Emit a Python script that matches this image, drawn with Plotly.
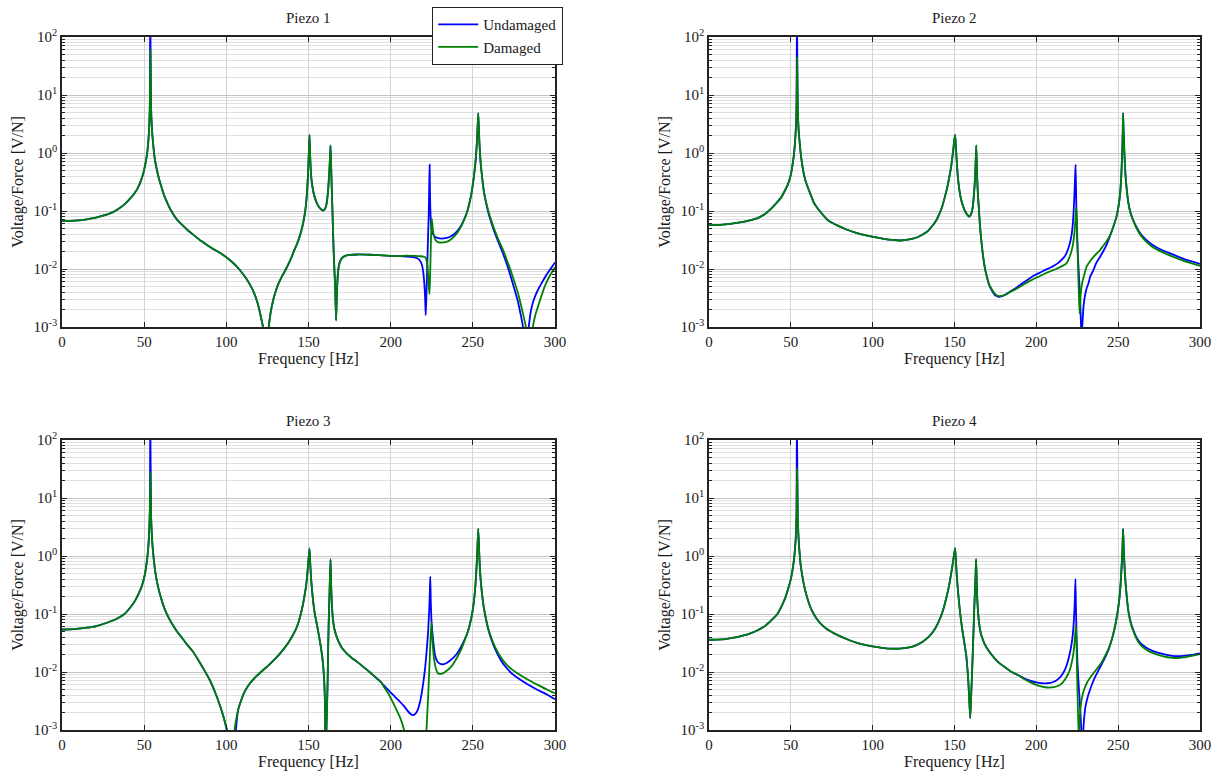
import plotly.graph_objects as go

# ---------------- data (frequency [Hz], voltage/force [V/N]) ----------------
PANEL_TITLES = ["Piezo 1", "Piezo 2", "Piezo 3", "Piezo 4"]
SERIES_NAMES = ["Undamaged", "Damaged"]
X_TICKS = [0, 50, 100, 150, 200, 250, 300]
Y_TICK_VALUES = [1e-3, 1e-2, 1e-1, 1e0, 1e1, 1e2]
Y_TICK_LABELS = ["10<sup>-3</sup>", "10<sup>-2</sup>", "10<sup>-1</sup>",
                 "10<sup>0</sup>", "10<sup>1</sup>", "10<sup>2</sup>"]

# ---- Piezo 1 ----
P1_LOW = [(0, 0.067), (5, 0.0675), (10, 0.069), (15, 0.072), (20, 0.076), (25, 0.083),
          (30, 0.093), (34, 0.107), (38, 0.13), (41, 0.158), (44, 0.2), (46, 0.245),
          (48, 0.33), (49.5, 0.45), (50.5, 0.6), (51.3, 0.8), (52, 1.1), (52.6, 1.7),
          (53, 2.6), (53.3, 4.5), (53.5, 8)]
P1_U_TOP = [(53.7, 300)]
P1_D_TOP = [(53.8, 60)]
P1_MID = [(54.2, 6), (54.6, 3.0), (55, 2.0), (55.5, 1.4), (56, 1.0), (56.7, 0.72),
          (57.5, 0.55), (59, 0.36), (60.7, 0.25), (62.3, 0.18), (64, 0.14), (66, 0.106),
          (67.7, 0.088), (70, 0.071), (73, 0.058), (76, 0.048), (79.4, 0.04), (85, 0.03),
          (91, 0.023), (96, 0.019), (100, 0.016), (104, 0.0128), (107, 0.0105),
          (110, 0.0083), (112, 0.0069), (114, 0.0056), (116, 0.0044), (118, 0.0032),
          (119.5, 0.0023), (121, 0.0015), (122.6, 0.0009), (124, 0.0001), (125.5, 0.0008),
          (127, 0.0018), (128.5, 0.0029), (130, 0.0041), (132, 0.0058), (134, 0.0076),
          (136, 0.0096), (137.7, 0.012), (139.5, 0.0155), (141, 0.02), (143, 0.027),
          (144.8, 0.038), (146, 0.05), (147, 0.068), (148, 0.1), (148.7, 0.15),
          (149.3, 0.26), (149.8, 0.5), (150.2, 1.0), (150.6, 2.06), (151, 0.9),
          (151.4, 0.5), (151.9, 0.33), (153, 0.21), (154, 0.165), (155, 0.138),
          (156.3, 0.118), (157.6, 0.107), (159, 0.102), (160, 0.108), (160.8, 0.125),
          (161.5, 0.17), (162.1, 0.26), (162.7, 0.5), (163.1, 0.85), (163.4, 1.35),
          (163.8, 0.55), (164.2, 0.22), (164.7, 0.075), (165.3, 0.02), (166.2, 0.005),
          (166.8, 0.0013), (167.3, 0.004), (168, 0.009), (169, 0.013), (170.4, 0.0155),
          (172, 0.0167), (175, 0.0175), (180, 0.0178), (185, 0.0177), (190, 0.0175),
          (195, 0.0172), (200, 0.0169), (205, 0.0167)]
P1_U_TAIL = [(210, 0.0163), (215, 0.0157), (217, 0.0148), (218, 0.0138), (219, 0.0118),
             (219.8, 0.009), (220.5, 0.0055), (221, 0.003), (221.3, 0.0016), (221.6, 0.0026),
             (222, 0.006), (222.5, 0.02), (222.9, 0.05), (223.2, 0.1), (223.5, 0.3),
             (223.7, 0.63), (223.9, 0.25), (224.1, 0.12), (224.4, 0.07), (224.8, 0.05),
             (225.5, 0.042), (226.5, 0.037), (228.8, 0.034), (231, 0.0335), (233.5, 0.034),
             (237, 0.037), (240.5, 0.045), (243, 0.057), (245, 0.075), (246.7, 0.1),
             (248, 0.14), (249, 0.19), (249.8, 0.26), (250.7, 0.4), (251.5, 0.65),
             (252, 0.95), (252.5, 1.6), (252.9, 2.8), (253.3, 4.85), (253.7, 2.5),
             (254, 1.5), (254.4, 0.95), (254.8, 0.65), (255.7, 0.37), (256.8, 0.21),
             (258, 0.14), (259, 0.105), (260, 0.082), (261.5, 0.06), (263.5, 0.041),
             (266, 0.027), (268.5, 0.018), (270.8, 0.0118), (273, 0.0075), (275.5, 0.0043),
             (277.5, 0.0027), (279, 0.0017), (280.3, 0.0011), (281.3, 0.0006),
             (282.5, 0.0001), (283.5, 0.0007), (284.5, 0.0013), (285.5, 0.002), (287, 0.0029),
             (289.5, 0.0043), (292, 0.0058), (294, 0.0073), (297, 0.0098), (300, 0.013)]
P1_D_TAIL = [(210, 0.017), (215, 0.0168), (218, 0.0166), (220, 0.0164), (221, 0.016),
             (221.7, 0.0145), (222.3, 0.012), (222.8, 0.008), (223.2, 0.005),
             (223.6, 0.0037), (223.9, 0.006), (224.2, 0.013), (224.5, 0.03), (224.8, 0.06),
             (225, 0.074), (225.3, 0.062), (225.7, 0.047), (226.5, 0.036), (227.5, 0.031),
             (228.8, 0.029), (231, 0.0285), (233.5, 0.029), (237, 0.033), (240.5, 0.042),
             (243, 0.055), (245, 0.074), (246.7, 0.1), (248, 0.14), (249, 0.19),
             (249.8, 0.26), (250.7, 0.4), (251.5, 0.65), (252, 0.95), (252.5, 1.6),
             (252.9, 2.8), (253.3, 4.85), (253.7, 2.5), (254, 1.5), (254.4, 0.95),
             (254.8, 0.65), (255.7, 0.37), (256.8, 0.21), (258, 0.145), (259, 0.112),
             (260, 0.088), (261.5, 0.065), (263.5, 0.045), (266, 0.03), (268.5, 0.021),
             (270.8, 0.014), (273, 0.0095), (275.5, 0.0058), (277.5, 0.0038), (279, 0.0026),
             (280.5, 0.0017), (282, 0.0011), (283.2, 0.0006), (284.5, 0.0001),
             (285.5, 0.0006), (286.5, 0.001), (288, 0.0016), (289.5, 0.0022), (292, 0.0036),
             (294, 0.0052), (297, 0.0078), (300, 0.0107)]

# ---- Piezo 2 ----
P2_LOW = [(0, 0.057), (5, 0.0575), (10, 0.059), (15, 0.061), (20, 0.064), (25, 0.069),
          (30, 0.076), (34, 0.088), (38, 0.11), (41, 0.135), (44, 0.17), (46, 0.215),
          (48, 0.28), (49.5, 0.37), (50.5, 0.5), (51.3, 0.7), (52, 1.0), (52.6, 1.6),
          (53, 2.4), (53.3, 4), (53.5, 7)]
P2_U_TOP = [(53.75, 300)]
P2_D_TOP = [(53.8, 44)]
P2_MID = [(54.2, 6), (54.6, 3.0), (55, 2.0), (55.5, 1.4), (56, 1.0), (56.7, 0.7),
          (57.5, 0.5), (59, 0.33), (61, 0.23), (62.5, 0.18), (64, 0.14), (66, 0.115),
          (68.3, 0.095), (70.5, 0.08), (73, 0.068), (75.5, 0.062), (78, 0.057), (84, 0.048),
          (90, 0.042), (96, 0.038), (102, 0.035), (110, 0.032), (117, 0.031), (124, 0.033),
          (128, 0.036), (131, 0.04), (134, 0.046), (137, 0.058), (139, 0.07),
          (140.7, 0.088), (142.5, 0.12), (144, 0.17), (145.5, 0.25), (146.7, 0.37),
          (147.8, 0.55), (148.7, 0.85), (149.4, 1.25), (149.9, 1.7), (150.4, 2.06),
          (150.9, 1.2), (151.4, 0.7), (152, 0.4), (152.8, 0.25), (153.6, 0.18),
          (154.5, 0.14), (155.5, 0.115), (156.4, 0.1), (157.6, 0.088), (158.8, 0.08),
          (159.7, 0.083), (160.5, 0.095), (161.2, 0.12), (161.8, 0.18), (162.3, 0.28),
          (162.8, 0.55), (163.3, 1.35), (163.7, 0.5), (164.1, 0.25), (164.5, 0.16),
          (164.9, 0.11), (165.4, 0.065), (166, 0.04), (166.6, 0.027), (167.3, 0.018),
          (168, 0.013), (169, 0.009), (170, 0.007), (170.9, 0.0056)]
P2_U_TAIL = [(172.5, 0.0044), (174.5, 0.0036), (176, 0.0034), (177.5, 0.0033),
             (179, 0.0034), (181, 0.0036), (184, 0.0041), (187.5, 0.0047), (191.3, 0.0056),
             (195, 0.0066), (198.6, 0.0077), (202, 0.0086), (205, 0.0095), (208, 0.0104),
             (210.7, 0.0114), (213, 0.0125), (215, 0.014), (217, 0.016), (218.5, 0.019),
             (220, 0.025), (221, 0.032), (221.6, 0.04), (222.3, 0.06), (222.8, 0.1),
             (223.3, 0.2), (223.7, 0.4), (224, 0.63), (224.3, 0.2), (224.6, 0.07),
             (225, 0.03), (225.5, 0.015), (226.1, 0.007), (226.8, 0.003), (227.6, 0.0006),
             (228.2, 0.0012), (228.8, 0.0022), (229.6, 0.0033), (230.7, 0.0046),
             (231.7, 0.0055), (233, 0.0075), (234.8, 0.0095), (236.8, 0.013),
             (238.8, 0.016), (240.8, 0.02), (242.9, 0.026), (245, 0.037), (247, 0.053),
             (249, 0.08), (250.2, 0.12), (251.2, 0.2), (251.9, 0.4), (252.4, 0.9),
             (252.8, 2.2), (253, 4.85), (253.3, 2.4), (253.8, 1.0), (254.4, 0.45),
             (255.2, 0.24), (256.2, 0.14), (257.5, 0.095), (259, 0.072), (261, 0.054),
             (263.8, 0.04), (267, 0.032), (271, 0.026), (277, 0.021), (283, 0.018),
             (290, 0.015), (295, 0.0135), (300, 0.0122)]
P2_D_TAIL = [(172.5, 0.0046), (174.5, 0.0038), (176, 0.0035), (178, 0.0034), (180, 0.0035),
             (182, 0.0037), (184, 0.004), (187.5, 0.0045), (191.3, 0.0052), (195, 0.006),
             (198.6, 0.0068), (202, 0.0075), (205, 0.0083), (208, 0.009), (210.7, 0.0096),
             (213, 0.0103), (215, 0.011), (217, 0.0117), (218.5, 0.0126), (220.3, 0.016),
             (221.6, 0.021), (222.5, 0.028), (223.2, 0.04), (223.8, 0.065), (224.2, 0.1),
             (224.5, 0.114), (224.8, 0.07), (225.1, 0.03), (225.5, 0.01), (225.9, 0.0045),
             (226.4, 0.0017), (226.8, 0.0027), (227.3, 0.0042), (228, 0.0058),
             (229.3, 0.008), (230.7, 0.011), (232.7, 0.0135), (234.8, 0.016),
             (236.8, 0.0185), (238.8, 0.021), (240.8, 0.025), (242.9, 0.03), (245, 0.038),
             (247, 0.053), (249, 0.08), (250.2, 0.12), (251.2, 0.2), (251.9, 0.4),
             (252.4, 0.9), (252.8, 2.2), (253, 4.85), (253.3, 2.4), (253.8, 1.0),
             (254.4, 0.45), (255.2, 0.24), (256.2, 0.14), (257.5, 0.092), (259, 0.07),
             (261, 0.052), (263.8, 0.038), (267, 0.03), (271, 0.024), (277, 0.0195),
             (283, 0.0165), (290, 0.0138), (295, 0.0125), (300, 0.0113)]

# ---- Piezo 3 ----
P3_LOW = [(0, 0.054), (5, 0.0545), (10, 0.056), (15, 0.058), (21, 0.062), (27, 0.07),
          (32.7, 0.081), (38, 0.1), (42, 0.135), (44.5, 0.17), (46.5, 0.22), (48.5, 0.3),
          (49.8, 0.4), (50.8, 0.55), (51.6, 0.8), (52.3, 1.2), (52.8, 1.9), (53.2, 3.5),
          (53.5, 7)]
P3_U_TOP = [(53.7, 300)]
P3_D_TOP = [(53.8, 28)]
P3_MID = [(54.2, 5), (54.6, 2.5), (55, 1.6), (55.5, 1.1), (56, 0.8), (56.7, 0.55),
          (57.5, 0.4), (58.4, 0.3), (60, 0.2), (61.5, 0.145), (63, 0.112), (65.5, 0.08),
          (68, 0.061), (70, 0.05), (73, 0.039), (76, 0.03), (79.4, 0.023), (83, 0.016),
          (86.4, 0.011), (90, 0.0072), (93.4, 0.0043), (96, 0.0027), (98, 0.0018),
          (100, 0.0011), (101.6, 0.0007)]
P3_U_ANTI = [(103.8, 0.0001), (105.6, 0.0008)]
P3_D_ANTI = [(103.4, 0.0001), (104.8, 0.0009)]
P3_MID2 = [(107, 0.0021), (108.6, 0.003), (111, 0.0045), (114.4, 0.0064), (118, 0.0083),
           (121.4, 0.0102), (126, 0.0133), (130.7, 0.018), (135, 0.025), (138, 0.033),
           (140, 0.041), (142, 0.052), (143.8, 0.07), (145.3, 0.1), (146.5, 0.14),
           (147.6, 0.21), (148.5, 0.3), (149.3, 0.5), (149.9, 0.8), (150.6, 1.35),
           (151.1, 0.7), (151.6, 0.4), (152.2, 0.25), (153, 0.15), (154, 0.095),
           (155.3, 0.062), (156.5, 0.04), (157.6, 0.026), (158.6, 0.016), (159.5, 0.0075),
           (160, 0.003), (160.4, 0.0003), (160.9, 0.001), (161.6, 0.006), (162, 0.03),
           (162.5, 0.12), (162.9, 0.3), (163.4, 0.88), (163.8, 0.3), (164.2, 0.15),
           (164.8, 0.085), (165.6, 0.058), (166.6, 0.045), (168, 0.035), (170, 0.027),
           (172.8, 0.0215), (176, 0.0178), (179.8, 0.0148), (183, 0.0125), (186.8, 0.0102),
           (190, 0.0085), (193.8, 0.0068)]
P3_U_TAIL = [(196, 0.0058), (198.5, 0.0049), (202, 0.0039), (205.5, 0.0031), (208, 0.0026),
             (210, 0.0022), (212, 0.0019), (213.6, 0.0018), (215, 0.0019), (216.4, 0.0022),
             (217.8, 0.003), (219, 0.0045), (220, 0.007), (221, 0.012), (222, 0.025),
             (222.8, 0.05), (223.4, 0.11), (223.8, 0.22), (224.1, 0.44), (224.4, 0.17),
             (224.8, 0.08), (225.3, 0.052), (226, 0.032), (226.8, 0.021), (227.6, 0.017),
             (229, 0.0145), (231.1, 0.0136), (233.5, 0.014), (235.8, 0.0155), (238.5, 0.018),
             (240.5, 0.021), (242.8, 0.027), (245, 0.036), (247, 0.05), (248.5, 0.072),
             (249.8, 0.11), (250.8, 0.18), (251.6, 0.32), (252.2, 0.6), (252.7, 1.2),
             (253.3, 2.94), (253.8, 1.3), (254.3, 0.6), (254.9, 0.35), (255.6, 0.22),
             (256.5, 0.14), (257.5, 0.095), (259.2, 0.057), (261.5, 0.035), (263.8, 0.024),
             (267, 0.016), (270.8, 0.0115), (274, 0.0093), (277.8, 0.0077), (283, 0.0062),
             (289.5, 0.0049), (295, 0.0041), (300, 0.0034)]
P3_D_TAIL = [(196, 0.0055), (198.5, 0.0043), (200.6, 0.0033), (203, 0.0024),
             (205.5, 0.0017), (207, 0.0013), (208.5, 0.0009), (210, 0.0004), (211, 0.0001),
             (216, 0.00002), (221, 0.0002), (221.8, 0.001), (222.5, 0.0025), (223, 0.005),
             (223.7, 0.015), (224.3, 0.04), (224.8, 0.072), (225.2, 0.045), (225.8, 0.025),
             (226.5, 0.016), (227.5, 0.0115), (228.8, 0.0095), (231, 0.0093),
             (233.5, 0.0102), (237, 0.0125), (240.5, 0.018), (242.8, 0.024), (245, 0.035),
             (247, 0.05), (248.5, 0.072), (249.8, 0.11), (250.8, 0.18), (251.6, 0.32),
             (252.2, 0.6), (252.7, 1.2), (253.3, 2.94), (253.8, 1.3), (254.3, 0.6),
             (254.9, 0.35), (255.6, 0.22), (256.5, 0.14), (257.5, 0.097), (259.2, 0.059),
             (261.5, 0.037), (263.8, 0.026), (267, 0.018), (270.8, 0.0132), (274, 0.011),
             (277.8, 0.0092), (283, 0.0075), (289.5, 0.006), (295, 0.005), (300, 0.0043)]

# ---- Piezo 4 ----
P4_LOW = [(0, 0.036), (5, 0.0363), (10, 0.037), (15.2, 0.039), (20, 0.042),
          (24.9, 0.046), (30, 0.053), (34.5, 0.063), (38.5, 0.08), (41.8, 0.1), (44.5, 0.14),
          (46.6, 0.19), (48.5, 0.28), (49.8, 0.38), (50.7, 0.5), (51.5, 0.7), (52, 0.9),
          (52.6, 1.4), (53, 2.0), (53.3, 3.5), (53.5, 6)]
P4_U_TOP = [(53.7, 300)]
P4_D_TOP = [(53.8, 32)]
P4_MID = [(54.2, 5), (54.6, 2.4), (55, 1.5), (55.5, 1.0), (56, 0.7), (57.2, 0.42),
          (58.7, 0.26), (60.3, 0.18), (62, 0.13), (64, 0.1), (65.9, 0.082), (68.5, 0.067),
          (72, 0.055), (75, 0.049), (78, 0.044), (84, 0.037), (90, 0.032), (96, 0.029),
          (102, 0.027), (107, 0.0258), (111.8, 0.0252), (116.5, 0.0253), (121.4, 0.0262),
          (126, 0.0285), (131, 0.034), (134.5, 0.041), (138.3, 0.057), (141.5, 0.088),
          (143.5, 0.13), (145.2, 0.2), (146.6, 0.3), (147.8, 0.47), (148.8, 0.7),
          (149.6, 1.0), (150.4, 1.37), (150.9, 0.8), (151.4, 0.45), (152.3, 0.22),
          (153.5, 0.1), (154.7, 0.055), (156, 0.032), (157.2, 0.019), (158.3, 0.008),
          (158.8, 0.0045), (159.6, 0.0016), (160.2, 0.004), (160.8, 0.011), (161.5, 0.04),
          (162, 0.11), (162.5, 0.25), (162.9, 0.5), (163.2, 0.88), (163.6, 0.35),
          (164, 0.16), (164.9, 0.075), (165.7, 0.052), (166.5, 0.042), (168.5, 0.03),
          (171, 0.023), (174.5, 0.0172), (178, 0.0138), (181.7, 0.0116), (185, 0.01),
          (189, 0.0088)]
P4_U_TAIL = [(192.5, 0.0078), (196.2, 0.0071), (200, 0.0066), (203.4, 0.0064),
             (207, 0.0064), (210.7, 0.0068), (213.5, 0.0076), (215.5, 0.0088),
             (217.5, 0.011), (219, 0.0145), (220.3, 0.02), (221.5, 0.03), (222.3, 0.045),
             (222.9, 0.075), (223.4, 0.14), (223.9, 0.4), (224.2, 0.13), (224.6, 0.04),
             (225.1, 0.015), (225.6, 0.008), (226.4, 0.0035), (227.2, 0.0015),
             (228.1, 0.0004), (228.7, 0.001), (229.3, 0.0017), (230, 0.0025), (231.5, 0.0038),
             (233.7, 0.0058), (236, 0.0083), (238.5, 0.0114), (241, 0.0155), (243.8, 0.023),
             (245.5, 0.032), (247, 0.045), (248.5, 0.07), (249.7, 0.11), (250.7, 0.18),
             (251.5, 0.33), (252.1, 0.65), (252.6, 1.3), (253, 2.94), (253.4, 1.4),
             (253.9, 0.65), (254.5, 0.35), (255.3, 0.19), (256.3, 0.11), (257.5, 0.075),
             (259, 0.055), (261.3, 0.039), (263.8, 0.031), (267, 0.0265), (271, 0.0232),
             (277, 0.0205), (283, 0.019), (290, 0.019), (295, 0.0197), (300, 0.021)]
P4_D_TAIL = [(192.5, 0.0076), (196.2, 0.0067), (200, 0.006), (203.4, 0.0056),
             (207, 0.0054), (210.7, 0.0055), (213.5, 0.0058), (215.5, 0.0063),
             (217.5, 0.0074), (219, 0.0088), (220.3, 0.0105), (221.5, 0.014),
             (222.3, 0.018), (222.9, 0.024), (223.5, 0.036), (224, 0.055), (224.2, 0.063),
             (224.5, 0.035), (224.8, 0.012), (225.2, 0.004), (225.9, 0.0007),
             (226.4, 0.0014), (227, 0.0024), (227.6, 0.0033), (229, 0.0048), (231.2, 0.0068),
             (234, 0.0088), (237.3, 0.0116), (240, 0.0148), (242, 0.019), (243.8, 0.024),
             (245.5, 0.032), (247, 0.045), (248.5, 0.07), (249.7, 0.11), (250.7, 0.18),
             (251.5, 0.33), (252.1, 0.65), (252.6, 1.3), (253, 2.94), (253.4, 1.4),
             (253.9, 0.65), (254.5, 0.35), (255.3, 0.19), (256.3, 0.11), (257.5, 0.073),
             (259, 0.053), (261.3, 0.037), (263.8, 0.029), (267, 0.0245), (271, 0.0213),
             (277, 0.0187), (283, 0.0175), (290, 0.0178), (295, 0.019), (300, 0.0203)]

UNDAMAGED = [
    P1_LOW + P1_U_TOP + P1_MID + P1_U_TAIL,
    P2_LOW + P2_U_TOP + P2_MID + P2_U_TAIL,
    P3_LOW + P3_U_TOP + P3_MID + P3_U_ANTI + P3_MID2 + P3_U_TAIL,
    P4_LOW + P4_U_TOP + P4_MID + P4_U_TAIL,
]
DAMAGED = [
    P1_LOW + P1_D_TOP + P1_MID + P1_D_TAIL,
    P2_LOW + P2_D_TOP + P2_MID + P2_D_TAIL,
    P3_LOW + P3_D_TOP + P3_MID + P3_D_ANTI + P3_MID2 + P3_D_TAIL,
    P4_LOW + P4_D_TOP + P4_MID + P4_D_TAIL,
]

# ---------------- layout geometry ----------------
W, H = 1220, 776
# plot-area pixel boxes: (left, right, top, bottom)
BOXES = [(62, 555, 37, 327), (709, 1200, 37, 327),
         (62, 555, 440, 730), (709, 1200, 440, 730)]
COLORS = ["#0000ff", "#008000"]
FONT = "Liberation Serif, Times New Roman, serif"
TXT = "#1a1a1a"

minor_vals = [m * 10 ** e for e in range(-3, 2) for m in range(2, 10)]

fig = go.Figure()

for i, (l, r, t, b) in enumerate(BOXES):
    n = "" if i == 0 else str(i + 1)
    for j, series in enumerate((UNDAMAGED[i], DAMAGED[i])):
        fig.add_trace(go.Scatter(
            x=[p[0] for p in series], y=[p[1] for p in series],
            mode="lines", name=SERIES_NAMES[j],
            line=dict(color=COLORS[j], width=1.8, shape="spline", smoothing=0.5),
            showlegend=(i == 0), legendgroup=SERIES_NAMES[j],
            xaxis="x" + n, yaxis="y" + n,
        ))
    axis_common = dict(
        showline=True, linecolor="#222", linewidth=1.5, mirror="allticks",
        ticks="inside", ticklen=5, tickcolor="#222", automargin=False,
        tickfont=dict(family=FONT, size=15, color=TXT),
        zeroline=False,
    )
    fig.update_layout(**{
        "xaxis" + n: dict(
            domain=[l / W, r / W], range=[0, 300], tickvals=X_TICKS,
            showgrid=True, gridcolor="#d4d4d4", gridwidth=1,
            title=dict(text="Frequency [Hz]", standoff=3,
                       font=dict(family=FONT, size=16, color=TXT)),
            anchor="y" + n, **axis_common),
        "yaxis" + n: dict(
            domain=[1 - b / H, 1 - t / H], type="log", range=[-3, 2],
            tickmode="array", tickvals=Y_TICK_VALUES, ticktext=Y_TICK_LABELS,
            showgrid=True, gridcolor="#c4c4c4", gridwidth=1,
            minor=dict(tickmode="array", tickvals=minor_vals, showgrid=True,
                       gridcolor="#e0e0e0", gridwidth=1, ticks="inside",
                       ticklen=3, tickcolor="#222"),
            title=dict(text="Voltage/Force [V/N]", standoff=6,
                       font=dict(family=FONT, size=16, color=TXT)),
            anchor="x" + n, **axis_common),
    })
    fig.add_annotation(
        x=(l + r) / 2 / W, y=1 - (t - 19) / H, xref="paper", yref="paper",
        text=PANEL_TITLES[i], showarrow=False, xanchor="center", yanchor="middle",
        font=dict(family=FONT, size=15, color=TXT),
    )

fig.update_layout(
    width=W, height=H, margin=dict(l=0, r=0, t=0, b=0, autoexpand=False),
    paper_bgcolor="white", plot_bgcolor="white",
    font=dict(family=FONT, color=TXT),
    legend=dict(
        x=432 / W, y=1 - 7 / H, xanchor="left", yanchor="top",
        bgcolor="white", bordercolor="#222", borderwidth=1.2,
        font=dict(family=FONT, size=15, color=TXT),
        tracegroupgap=0, itemwidth=40,
    ),
)

fig.write_html("out.html",
               config={"displayModeBar": False},
               post_script="document.body.style.margin='0px';"
                           "document.body.style.overflow='hidden';")
